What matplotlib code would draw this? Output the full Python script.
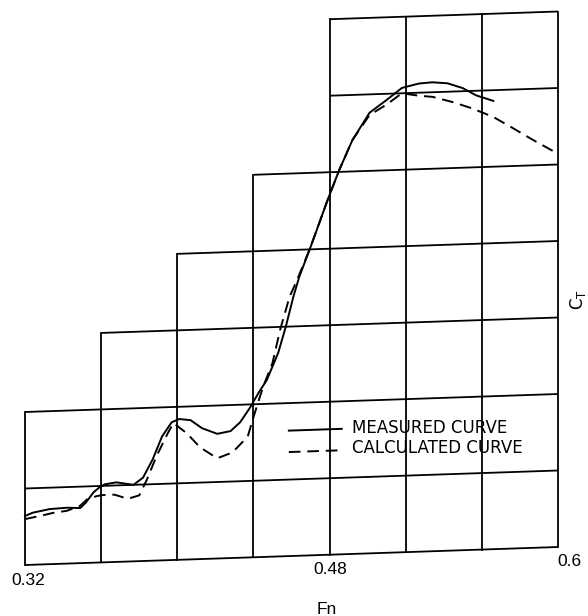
#!/usr/bin/env python3
"""
Resistance coefficient vs Froude number - measured vs calculated curve
(re-drawn from a scanned figure, slight page skew kept)
"""

import numpy as np
import matplotlib
matplotlib.use('Agg')
import matplotlib.pyplot as plt
from matplotlib.transforms import Affine2D

# grid columns (Fn) and number of grid rows drawn in each column
col_edges = [0.32, 0.36, 0.40, 0.44, 0.48, 0.52, 0.56, 0.60]
col_rows = [2, 3, 4, 5, 7, 7, 7]

# curves, CT given in grid units (no CT scale printed on the figure)
fn_measured = [0.320, 0.324, 0.333, 0.342, 0.349, 0.352, 0.356, 0.359, 0.362, 0.368,
               0.377, 0.382, 0.387, 0.392, 0.397, 0.401, 0.407, 0.413, 0.421, 0.428,
               0.433, 0.438, 0.443, 0.447, 0.453, 0.457, 0.461, 0.464, 0.470, 0.479,
               0.485, 0.492, 0.501, 0.510, 0.518, 0.527, 0.534, 0.542, 0.550, 0.557,
               0.566]
ct_measured = [0.64, 0.68, 0.72, 0.73, 0.72, 0.79, 0.92, 0.98, 1.02, 1.04,
               1.00, 1.09, 1.32, 1.62, 1.80, 1.84, 1.82, 1.71, 1.63, 1.66,
               1.77, 1.95, 2.16, 2.31, 2.66, 3.00, 3.39, 3.64, 4.03, 4.64,
               5.02, 5.41, 5.76, 5.92, 6.07, 6.12, 6.13, 6.11, 6.04, 5.94,
               5.86]

fn_calc = [0.320, 0.329, 0.335, 0.342, 0.349, 0.353, 0.358, 0.361, 0.367, 0.374,
           0.380, 0.384, 0.389, 0.395, 0.398, 0.405, 0.412, 0.421, 0.429, 0.437,
           0.440, 0.445, 0.450, 0.454, 0.459, 0.463, 0.470, 0.479, 0.485, 0.492,
           0.501, 0.510, 0.518, 0.527, 0.534, 0.545, 0.555, 0.566, 0.576, 0.587,
           0.600]
ct_calc = [0.60, 0.64, 0.67, 0.69, 0.75, 0.84, 0.87, 0.88, 0.88, 0.82,
           0.86, 1.06, 1.36, 1.66, 1.79, 1.65, 1.46, 1.31, 1.38, 1.58,
           1.83, 2.22, 2.53, 2.96, 3.39, 3.61, 4.03, 4.64, 5.02, 5.41,
           5.73, 5.86, 6.00, 5.96, 5.94, 5.86, 5.77, 5.65, 5.50, 5.33,
           5.14]

tick_labels = ['0.32', '0.48', '0.6']
tick_pos = [0.3216, 0.4806, 0.606]
legend_labels = ['MEASURED CURVE', 'CALCULATED CURVE']

# page geometry (pixels of the 588x616 scan)
W, H = 588, 616
x0_px, col_px = 25, 533 / 7      # left grid edge, column width
base_px, row_px = 565, 76.5      # bottom grid line at left edge, row height
skew = 18 / 533                  # scan skew: right side sits higher

fig = plt.figure(figsize=(W / 100, H / 100), dpi=100)
ax = fig.add_axes([0, 0, 1, 1])
ax.axis('off')
fn_per_px = 0.04 / col_px
ax.set_xlim(0.32 - x0_px * fn_per_px, 0.32 + (W - x0_px) * fn_per_px)
ax.set_ylim((base_px - H) / row_px, base_px / row_px)

# shear in display space to mimic the skewed scan
shear = Affine2D(np.array([[1, 0, 0], [skew, 1, -skew * x0_px], [0, 0, 1]]))
tr = ax.transData + shear

lw = 1.3
# horizontal grid lines
for r in range(max(col_rows) + 1):
    cols = [i for i, n in enumerate(col_rows) if n >= r]
    ax.plot([col_edges[cols[0]], col_edges[cols[-1] + 1]], [r, r],
            color='black', lw=lw, transform=tr, solid_capstyle='butt')
# vertical grid lines
for i, x in enumerate(col_edges):
    left = col_rows[i - 1] if i > 0 else 0
    right = col_rows[i] if i < len(col_rows) else 0
    ax.plot([x, x], [0, max(left, right)], color='black', lw=lw, transform=tr)

# curves
ax.plot(fn_measured, ct_measured, color='black', lw=1.4, transform=tr)
ax.plot(fn_calc, ct_calc, color='black', lw=1.4, dashes=(6, 3.5), transform=tr)

# legend inside the grid
ax.plot([0.4586, 0.4864], [1.64, 1.64], color='black', lw=1.4, transform=tr)
ax.plot([0.4586, 0.4864], [1.36, 1.36], color='black', lw=1.4, dashes=(6, 3.5), transform=tr)
ax.text(0.4917, 1.65, legend_labels[0], fontsize=12, ha='left', va='center',
        family='DejaVu Sans', transform=tr)
ax.text(0.4917, 1.39, legend_labels[1], fontsize=12, ha='left', va='center',
        family='DejaVu Sans', transform=tr)

# axis texts
for lab, x in zip(tick_labels, tick_pos):
    ax.text(x, -0.2, lab, fontsize=12.5, ha='center', va='center',
            family='Liberation Sans', transform=tr)
ax.text(0.4786, -0.72, 'Fn', fontsize=12.5, ha='center', va='center',
        family='Liberation Sans', transform=tr)
ax.text(0.6103, 3.23, r'$\mathrm{C_T}$', fontsize=12, rotation=90,
        ha='center', va='center', transform=tr)

fig.savefig('out.png', dpi=100)
print("Saved out.png")
